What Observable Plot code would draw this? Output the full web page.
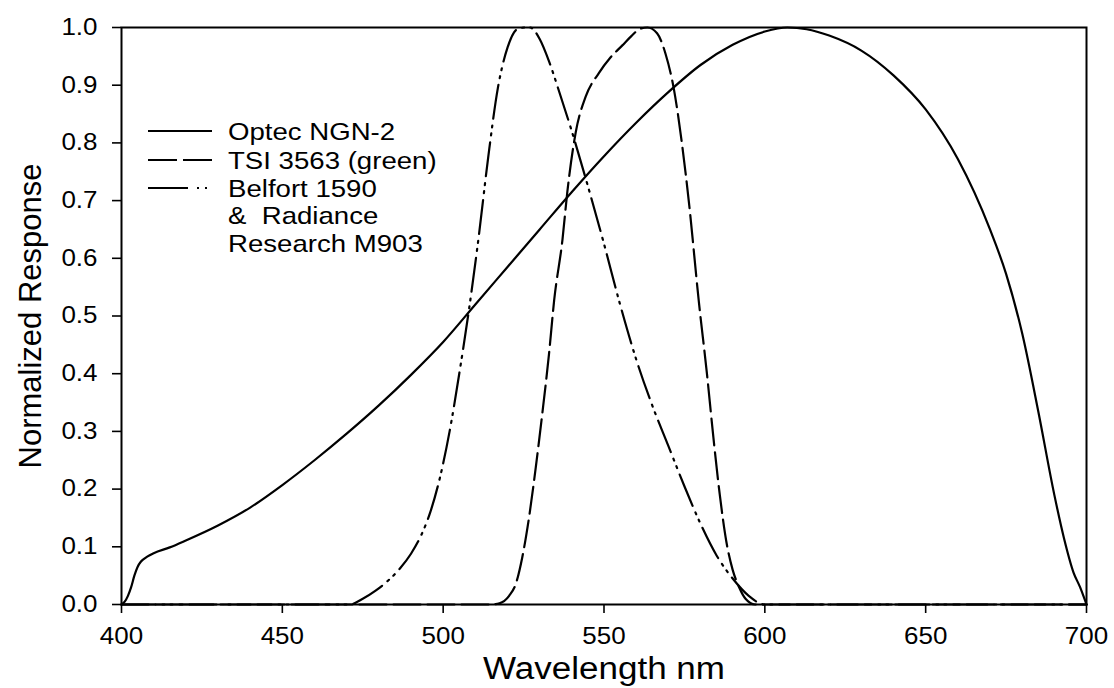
<!DOCTYPE html>
<html>
<head>
<meta charset="utf-8">
<script src="https://cdn.jsdelivr.net/npm/d3@7"></script>
<script src="https://cdn.jsdelivr.net/npm/@observablehq/plot@0.6"></script>
<style>
  body { margin: 0; background: #fff; }
  #chart { width: 1114px; height: 688px; }
  #chart svg { display: block; }
</style>
</head>
<body>
<div id="chart"></div>
<script>
// Normalized spectral response of three nephelometer / transmissometer detectors
const optecWavelength = [400, 401, 402, 403, 404, 405, 406, 407, 408, 410, 415, 420, 430, 440, 450, 460, 470, 480, 490, 500, 510, 520, 530, 540, 550, 560, 570, 580, 590, 600, 607, 613, 620, 630, 640, 650, 660, 670, 675, 680, 685, 690, 693, 696, 698, 700];
const optecResponse   = [0, 0.005, 0.015, 0.03, 0.05, 0.065, 0.074, 0.079, 0.083, 0.089, 0.099, 0.111, 0.137, 0.168, 0.207, 0.25, 0.296, 0.345, 0.398, 0.455, 0.52, 0.585, 0.65, 0.715, 0.777, 0.835, 0.888, 0.935, 0.97, 0.993, 1.0, 0.997, 0.986, 0.96, 0.917, 0.858, 0.772, 0.65, 0.573, 0.47, 0.335, 0.19, 0.115, 0.055, 0.03, 0];

const tsiWavelength = [400, 470, 500, 515, 517.5, 520.5, 522.6, 524.6, 526.7, 528.8, 530.8, 532.9, 534.5, 537.1, 538.6, 541.2, 544.3, 548.4, 552, 555.7, 558.5, 561, 563.5, 566.5, 569.1, 571.7, 574.3, 576.4, 579.5, 582, 584, 586, 588, 590, 592, 594, 597, 600, 700];
const tsiResponse   = [0, 0, 0, 0, 0.002, 0.015, 0.036, 0.082, 0.151, 0.238, 0.33, 0.434, 0.527, 0.633, 0.715, 0.818, 0.88, 0.921, 0.948, 0.969, 0.985, 0.997, 1.0, 0.99, 0.955, 0.894, 0.796, 0.697, 0.524, 0.4, 0.29, 0.19, 0.11, 0.06, 0.03, 0.01, 0, 0, 0];

const belfortWavelength = [400, 470.8, 475, 479, 483, 486.5, 490, 493, 496, 499, 502, 505, 508, 511, 514, 517, 520, 523, 525.5, 527, 530, 533, 536, 540, 545, 550, 555, 560, 565, 570, 575, 580, 585, 590, 595, 600, 700];
const belfortResponse   = [0, 0, 0.01, 0.024, 0.042, 0.062, 0.088, 0.118, 0.16, 0.22, 0.3, 0.4, 0.51, 0.635, 0.775, 0.895, 0.965, 0.997, 1.0, 1.0, 0.98, 0.94, 0.89, 0.82, 0.725, 0.625, 0.52, 0.425, 0.345, 0.275, 0.205, 0.14, 0.085, 0.045, 0.015, 0, 0];

const xTicks = [400, 450, 500, 550, 600, 650, 700];
const yTicks = [0, 0.1, 0.2, 0.3, 0.4, 0.5, 0.6, 0.7, 0.8, 0.9, 1.0];
const xTitle = "Wavelength nm";
const yTitle = "Normalized Response";
const legendLabels = ["Optec NGN-2", "TSI 3563 (green)", "Belfort 1590", "&  Radiance", "Research M903"];

const DASHED = "27,7";
const DASH_DOT_DOT = "34,7,2,6,2,7";

const series = [
  { name: "Optec NGN-2", x: optecWavelength, y: optecResponse, dash: null, legendDash: null },
  { name: "TSI 3563 (green)", x: tsiWavelength, y: tsiResponse, dash: DASHED, legendDash: "29,6" },
  { name: "Belfort 1590", x: belfortWavelength, y: belfortResponse, dash: DASH_DOT_DOT, legendDash: "40,9,2,6,2,6" }
];

const tables = series.map(s => s.x.map((w, i) => ({ wavelength: w, response: s.y[i] })));

const FONT = "'Liberation Sans', Arial, Helvetica, sans-serif";
const STRETCH = 1.13;

const plot = Plot.plot({
  width: 1114,
  height: 688,
  marginLeft: 121,
  marginRight: 28,
  marginTop: 27,
  marginBottom: 84,
  style: { fontFamily: FONT, fontSize: "23px", color: "#000", background: "#fff", overflow: "visible" },
  x: { domain: [400, 700] },
  y: { domain: [0, 1] },
  marks: [
    ...series.map((s, i) => Plot.line(tables[i], {
      x: "wavelength", y: "response", curve: "monotone-x",
      stroke: "#000", strokeWidth: 2.2, strokeDasharray: s.dash
    })),
    Plot.frame({ stroke: "#000", strokeWidth: 2 }),
    Plot.axisX({ ticks: xTicks, tickFormat: d => String(d), tickSize: 9, tickPadding: 14, strokeWidth: 1.6, label: null, fontSize: 23 }),
    Plot.axisY({ ticks: yTicks, tickFormat: d3.format(".1f"), tickSize: 9, tickPadding: 15, strokeWidth: 1.6, label: null, fontSize: 23 })
  ]
});

document.getElementById("chart").append(plot);

const svg = d3.select(plot);

// widen axis tick labels slightly around their anchors
svg.selectAll("[aria-label^='x-axis tick label'] text, [aria-label^='y-axis tick label'] text").each(function () {
  const t = d3.select(this);
  const tr = t.attr("transform") || "";
  t.attr("transform", tr + ` scale(${STRETCH},1)`);
});

// axis titles
svg.append("text")
  .attr("transform", `translate(604,679) scale(${STRETCH},1)`)
  .attr("text-anchor", "middle")
  .attr("font-family", FONT).attr("font-size", 31).attr("fill", "#000")
  .text(xTitle);

svg.append("text")
  .attr("transform", "translate(41,316) rotate(-90)")
  .attr("text-anchor", "middle")
  .attr("font-family", FONT).attr("font-size", 31).attr("fill", "#000")
  .text(yTitle);

// legend
const legend = svg.append("g").attr("class", "legend");
const rowY = [131, 160, 188, 215, 243];
series.forEach((s, i) => {
  legend.append("line")
    .attr("x1", 148).attr("x2", 212).attr("y1", rowY[i]).attr("y2", rowY[i])
    .attr("stroke", "#000").attr("stroke-width", 2.2)
    .attr("stroke-dasharray", s.legendDash);
});
legendLabels.forEach((label, i) => {
  legend.append("text")
    .attr("transform", `translate(228,${rowY[i]}) scale(1.15,1)`)
    .attr("dy", "0.36em")
    .attr("text-anchor", "start")
    .attr("font-family", FONT).attr("font-size", 24).attr("fill", "#000")
    .style("white-space", "pre")
    .text(label);
});
</script>
</body>
</html>
